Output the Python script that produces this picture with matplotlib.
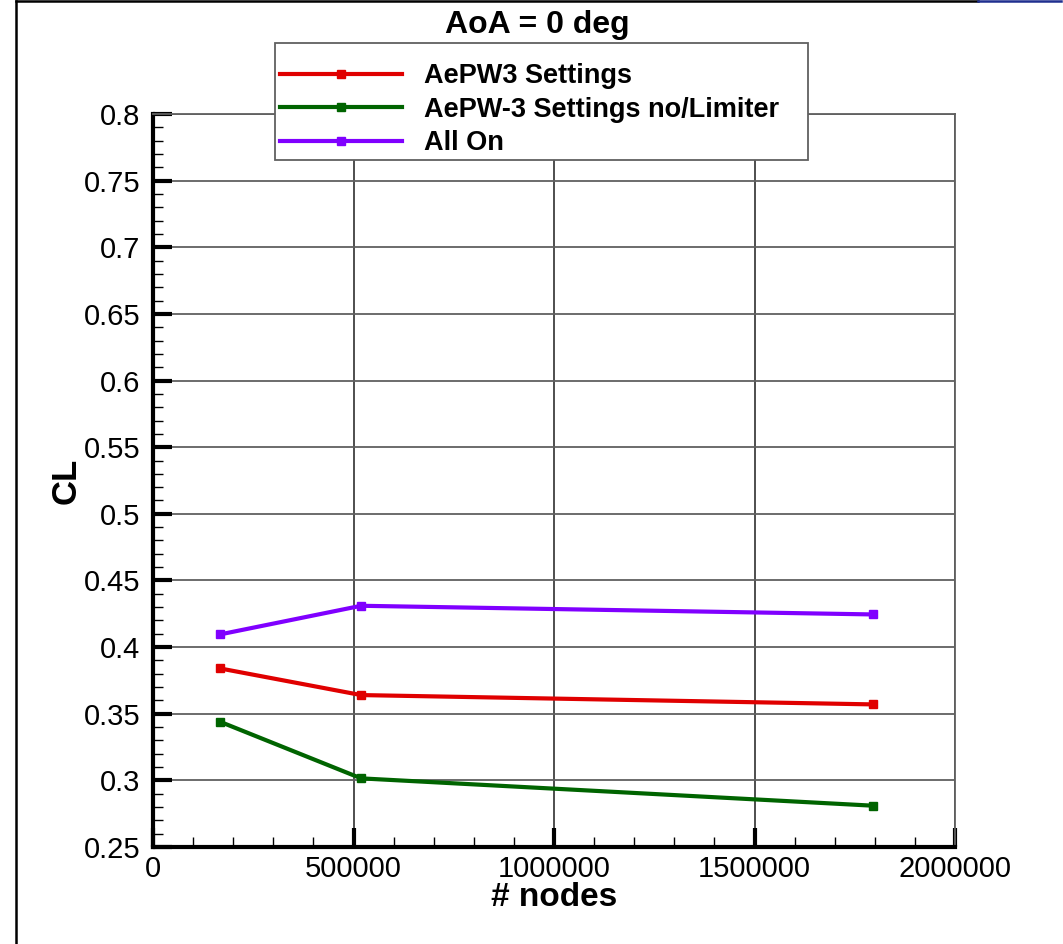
import matplotlib
matplotlib.use('Agg')
import matplotlib.pyplot as plt
from matplotlib.lines import Line2D
from matplotlib.patches import Rectangle
from matplotlib.ticker import MultipleLocator, FuncFormatter

plt.rcParams['font.family'] = ['Liberation Sans', 'DejaVu Sans']

# grid sizes (number of nodes) and lift coefficient per run
nodes = [167000, 519000, 1795000]
cl_aepw3 = [0.384, 0.364, 0.357]
cl_aepw3_nolim = [0.344, 0.3015, 0.281]
cl_all_on = [0.4095, 0.431, 0.4245]

series = [
    ('AePW3 Settings', cl_aepw3, '#e00000'),
    ('AePW-3 Settings no/Limiter', cl_aepw3_nolim, '#006400'),
    ('All On', cl_all_on, '#8000ff'),
]

W, H = 1063, 944
fig = plt.figure(figsize=(W / 100, H / 100), dpi=100)
ax = fig.add_axes([153 / W, 1 - 847 / H, 802 / W, 733 / H])

handles = []
for label, values, color in series:
    line, = ax.plot(nodes, values, color=color, lw=3, marker='s', markersize=6,
                    label=label, zorder=3, clip_on=False)
    handles.append(line)

ax.set_xlim(0, 2000000)
ax.set_ylim(0.25, 0.8)
ax.xaxis.set_major_locator(MultipleLocator(500000))
ax.xaxis.set_minor_locator(MultipleLocator(100000))
ax.yaxis.set_major_locator(MultipleLocator(0.05))
ax.yaxis.set_minor_locator(MultipleLocator(0.01))
ax.xaxis.set_major_formatter(FuncFormatter(lambda v, p: '%d' % round(v)))
ax.yaxis.set_major_formatter(FuncFormatter(lambda v, p: '%g' % round(v, 2)))

ax.tick_params(which='major', direction='in', length=13.5, width=3,
               labelsize=21, color='black')
ax.tick_params(which='minor', direction='in', length=7, width=1)
ax.tick_params(axis='y', which='major', pad=9)
ax.tick_params(axis='x', which='major', pad=6)

ax.grid(True, axis='y', which='major', color='#606060', lw=1.3, zorder=1)
ax.grid(True, axis='x', which='major', color='#303030', lw=1.2, zorder=1)

for side in ('left', 'bottom'):
    ax.spines[side].set_linewidth(3)
    ax.spines[side].set_color('black')
for side in ('top', 'right'):
    ax.spines[side].set_linewidth(1.3)
    ax.spines[side].set_color('#606060')

ax.set_xlabel('# nodes', fontsize=24, fontweight='bold')
ax.xaxis.set_label_coords(0.5, -0.048)
ax.set_ylabel('CL', fontsize=25, fontweight='bold')
ax.yaxis.set_label_coords(-0.088, 0.5)

fig.text(537 / W, 1 - 25 / H, 'AoA = 0 deg', fontsize=23, fontweight='bold',
         ha='center', va='center')

# legend box drawn separately so it can be taller than the entries need
box = Rectangle((275 / W, 1 - 160 / H), 533 / W, 117 / H,
                transform=fig.transFigure, facecolor='white',
                edgecolor='#606060', lw=1.3, zorder=5)
fig.add_artist(box)
leg = fig.legend(handles, [s[0] for s in series], loc='upper left',
                 bbox_to_anchor=(280 / W, 1 - 63 / H),
                 prop={'weight': 'bold', 'size': 19.5},
                 handlelength=4.5, handletextpad=0.8, borderpad=0,
                 labelspacing=0.28, borderaxespad=0, frameon=False)
leg.set_zorder(6)

# page frame along the left and top edges
fig.add_artist(Line2D([16 / W, 16 / W], [0, 1 - 1 / H], color='black', lw=1.8,
                      transform=fig.transFigure))
fig.add_artist(Line2D([16 / W, 978 / W], [1 - 1 / H, 1 - 1 / H], color='black',
                      lw=1.8, transform=fig.transFigure))
fig.add_artist(Line2D([978 / W, 1 - 2 / W], [1 - 1 / H, 1 - 1 / H],
                      color='#1f2f8f', lw=1.8, transform=fig.transFigure))

fig.savefig('out.png', dpi=100)
